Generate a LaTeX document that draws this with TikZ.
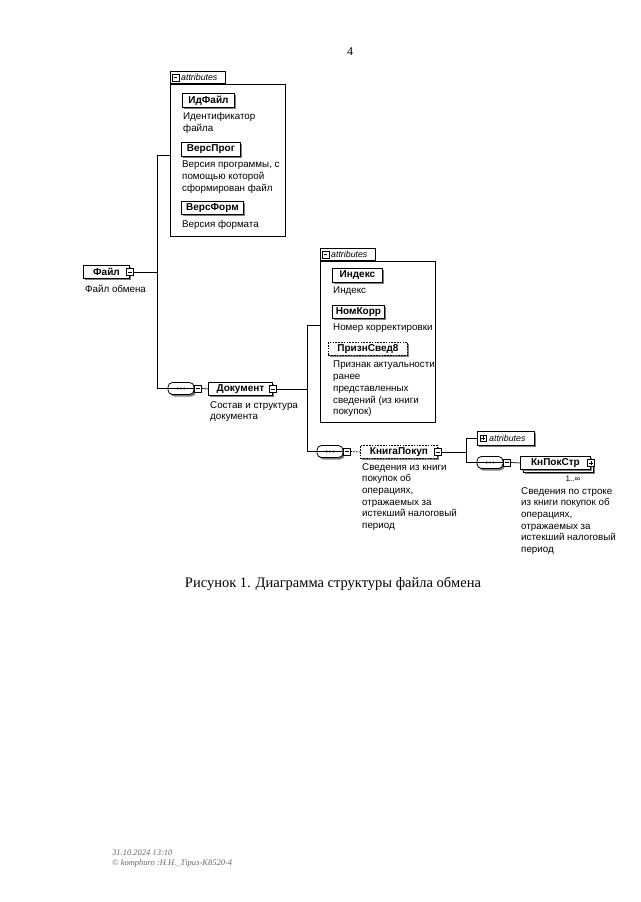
\documentclass[tikz,border=0pt]{standalone}
\usepackage{fontspec}
\setmainfont{Liberation Sans}
\newfontfamily\serifrm{Liberation Serif}
\usetikzlibrary{shadows}
\begin{document}
\begin{tikzpicture}[x=1pt,y=-1pt,
  conn/.style={line width=0.7pt},
  shad/.style={drop shadow={shadow xshift=1.8pt, shadow yshift=-2pt, fill=black!50, opacity=1}},
  elem/.style={draw, fill=white, line width=0.9pt, font=\fontsize{10}{11}\selectfont\bfseries, inner sep=0pt, anchor=north west, shad},
  optelem/.style={elem, dash pattern=on 1.6pt off 1.2pt},
  desc/.style={font=\fontsize{9.8}{11.7}\selectfont, align=left, anchor=north west, inner sep=0pt},
  mbox/.style={draw, fill=white, minimum size=6.5pt, inner sep=0pt, line width=0.5pt,
    path picture={\draw[line width=0.5pt] ([xshift=1.3pt]path picture bounding box.west) -- ([xshift=-1.3pt]path picture bounding box.east);}},
  pbox/.style={mbox, path picture={\draw[line width=0.5pt] ([xshift=1.3pt]path picture bounding box.west) -- ([xshift=-1.3pt]path picture bounding box.east); \draw[line width=0.5pt] ([yshift=-1.3pt]path picture bounding box.north) -- ([yshift=1.3pt]path picture bounding box.south);}},
  seq/.style={draw, fill=white, rounded corners=4.5pt, minimum width=26pt, minimum height=12pt, inner sep=0pt, line width=0.8pt, shad},
  abox/.style={draw, line width=0.8pt, inner sep=0pt, anchor=north west},
  tab/.style={draw, fill=white, line width=0.8pt, anchor=south west, minimum width=55pt, minimum height=12pt, inner sep=0pt},
  tabtext/.style={font=\fontsize{8.8}{9}\selectfont\itshape, inner sep=0pt, anchor=west},
  serifcap/.style={font=\serifrm\fontsize{14.5}{16}\selectfont},
  foot/.style={font=\serifrm\itshape\fontsize{8.5}{9.5}\selectfont, text=black!60, anchor=west, inner sep=0pt}
]
\useasboundingbox[fill=white] (0,0) rectangle (640,902);

% page number
\node[font=\serifrm\fontsize{12}{14}\selectfont] (pg) at (350,52) {4};

% ---------- attributes of Файл ----------
\node[abox, minimum width=115pt, minimum height=152pt] (ab1) at (170,84) {};
\node[tab] (t1) at (ab1.north west) {};
\node[mbox] (t1m) at ([xshift=5.5pt]t1.west) {};
\node[tabtext] (t1t) at ([xshift=11pt]t1.west) {attributes};

\node[elem, minimum width=52pt, minimum height=14pt] (idf) at (182,93) {ИдФайл};
\node[desc] (idfd) at (183,112) {Идентификатор\\файла};
\node[elem, minimum width=59pt, minimum height=14pt] (vp) at (181,142) {ВерсПрог};
\node[desc] (vpd) at (182,161) {Версия программы, с\\помощью которой\\сформирован файл};
\node[elem, minimum width=62pt, minimum height=13pt] (vf) at (181,201) {ВерсФорм};
\node[desc] (vfd) at (182,220) {Версия формата};

% ---------- Файл ----------
\node[elem, minimum width=46pt, minimum height=13pt] (fail) at (83,265) {Файл\hspace{6pt}};
\node[mbox] (mfail) at (fail.east) {};
\node[desc] (faild) at (85,285) {Файл обмена};

\coordinate (v1t) at (157,155);
\coordinate (v1b) at (157,388.5);
\draw[conn] (mfail.east) -- (mfail.east -| v1t);
\draw[conn] (ab1.west |- v1t) -- (v1t) -- (v1b);

% sequence 1
\node[seq] (s1) at (181,388.5) {};
\draw[line width=0.6pt] (s1.west) -- (s1.east);
\fill (s1.center) circle (1.1pt) ++(-3.2,0) circle (1.1pt) ++(6.4,0) circle (1.1pt);
\draw[conn] (v1b) -- (s1.west);
\node[mbox] (ms1) at ([xshift=3.5pt]s1.east) {};
\node[elem, minimum width=64pt, minimum height=13pt] (dok) at (208,382) {Документ\hspace{5pt}};
\node[mbox] (mdok) at (dok.east) {};
\draw[conn] (ms1.east) -- (dok.west);
\node[desc] (dokd) at (210,401) {Состав и структура\\документа};

% ---------- attributes of Документ ----------
\node[abox, minimum width=115pt, minimum height=161pt] (ab2) at (320,261) {};
\node[tab] (t2) at (ab2.north west) {};
\node[mbox] (t2m) at ([xshift=5.5pt]t2.west) {};
\node[tabtext] (t2t) at ([xshift=11pt]t2.west) {attributes};

\node[elem, minimum width=50pt, minimum height=14pt] (ind) at (332,268) {Индекс};
\node[desc] (indd) at (333,287) {Индекс};
\node[elem, minimum width=52pt, minimum height=13pt] (nk) at (332,305) {НомКорр};
\node[desc] (nkd) at (333,324) {Номер корректировки};
\node[optelem, minimum width=79pt, minimum height=13pt] (ps) at (328,342) {ПризнСвед8};
\node[desc] (psd) at (333,361) {Признак актуальности\\ранее\\представленных\\сведений (из книги\\покупок)};

\coordinate (v2t) at (307,325);
\coordinate (v2b) at (307,451.5);
\draw[conn] (mdok.east) -- (mdok.east -| v2t);
\draw[conn] (ab2.west |- v2t) -- (v2t) -- (v2b);

% sequence 2
\node[seq] (s2) at (330,451.5) {};
\draw[line width=0.6pt] (s2.west) -- (s2.east);
\fill (s2.center) circle (1.1pt) ++(-3.2,0) circle (1.1pt) ++(6.4,0) circle (1.1pt);
\draw[conn] (v2b) -- (s2.west);
\node[mbox] (ms2) at ([xshift=3.5pt]s2.east) {};
\node[optelem, minimum width=77pt, minimum height=13pt] (kp) at (360,445) {КнигаПокуп\hspace{6pt}};
\node[mbox] (mkp) at (kp.east) {};
\draw[conn, dash pattern=on 1.6pt off 1.2pt] (ms2.east) -- (kp.west);
\node[desc] (kpd) at (362,463) {Сведения из книги\\покупок об\\операциях,\\отражаемых за\\истекший налоговый\\период};

\coordinate (v3t) at (466,438);
\coordinate (v3b) at (466,462.5);
\draw[conn] (mkp.east) -- (mkp.east -| v3t);

% collapsed attributes
\node[abox, fill=white, minimum width=57pt, minimum height=14pt, shad] (ab3) at (477,431) {};
\node[pbox] (t3m) at ([xshift=6pt]ab3.west) {};
\node[tabtext] (t3t) at ([xshift=12pt]ab3.west) {attributes};
\draw[conn] (ab3.west |- v3t) -- (v3t) -- (v3b);

% sequence 3
\node[seq] (s3) at (490,462.5) {};
\draw[line width=0.6pt] (s3.west) -- (s3.east);
\fill (s3.center) circle (1.1pt) ++(-3.2,0) circle (1.1pt) ++(6.4,0) circle (1.1pt);
\draw[conn] (v3b) -- (s3.west);
\node[mbox] (ms3) at ([xshift=3.5pt]s3.east) {};
\node[elem, minimum width=70pt, minimum height=13pt] (kps2) at (523,459) {};
\node[elem, minimum width=70pt, minimum height=13pt] (kps) at (520,456) {КнПокСтр\hspace{6pt}};
\node[pbox] (pkps) at (kps.east) {};
\draw[conn] (ms3.east) -- (kps.west);
\node[font=\fontsize{8}{9}\selectfont, inner sep=0pt] (occ) at (573,479) {1..∞};
\node[desc] (kpsd) at (521,487) {Сведения по строке\\из книги покупок об\\операциях,\\отражаемых за\\истекший налоговый\\период};

% caption
\node[serifcap] (cap) at (333,584) {Рисунок 1. Диаграмма структуры файла обмена};

% footer
\node[foot] (f1) at (112,853) {31.10.2024 13:10};
\node[foot] (f2) at (112,863) {© komphuro :Н.Н.\_Тіриз-К8520-4};
\end{tikzpicture}
\end{document}
